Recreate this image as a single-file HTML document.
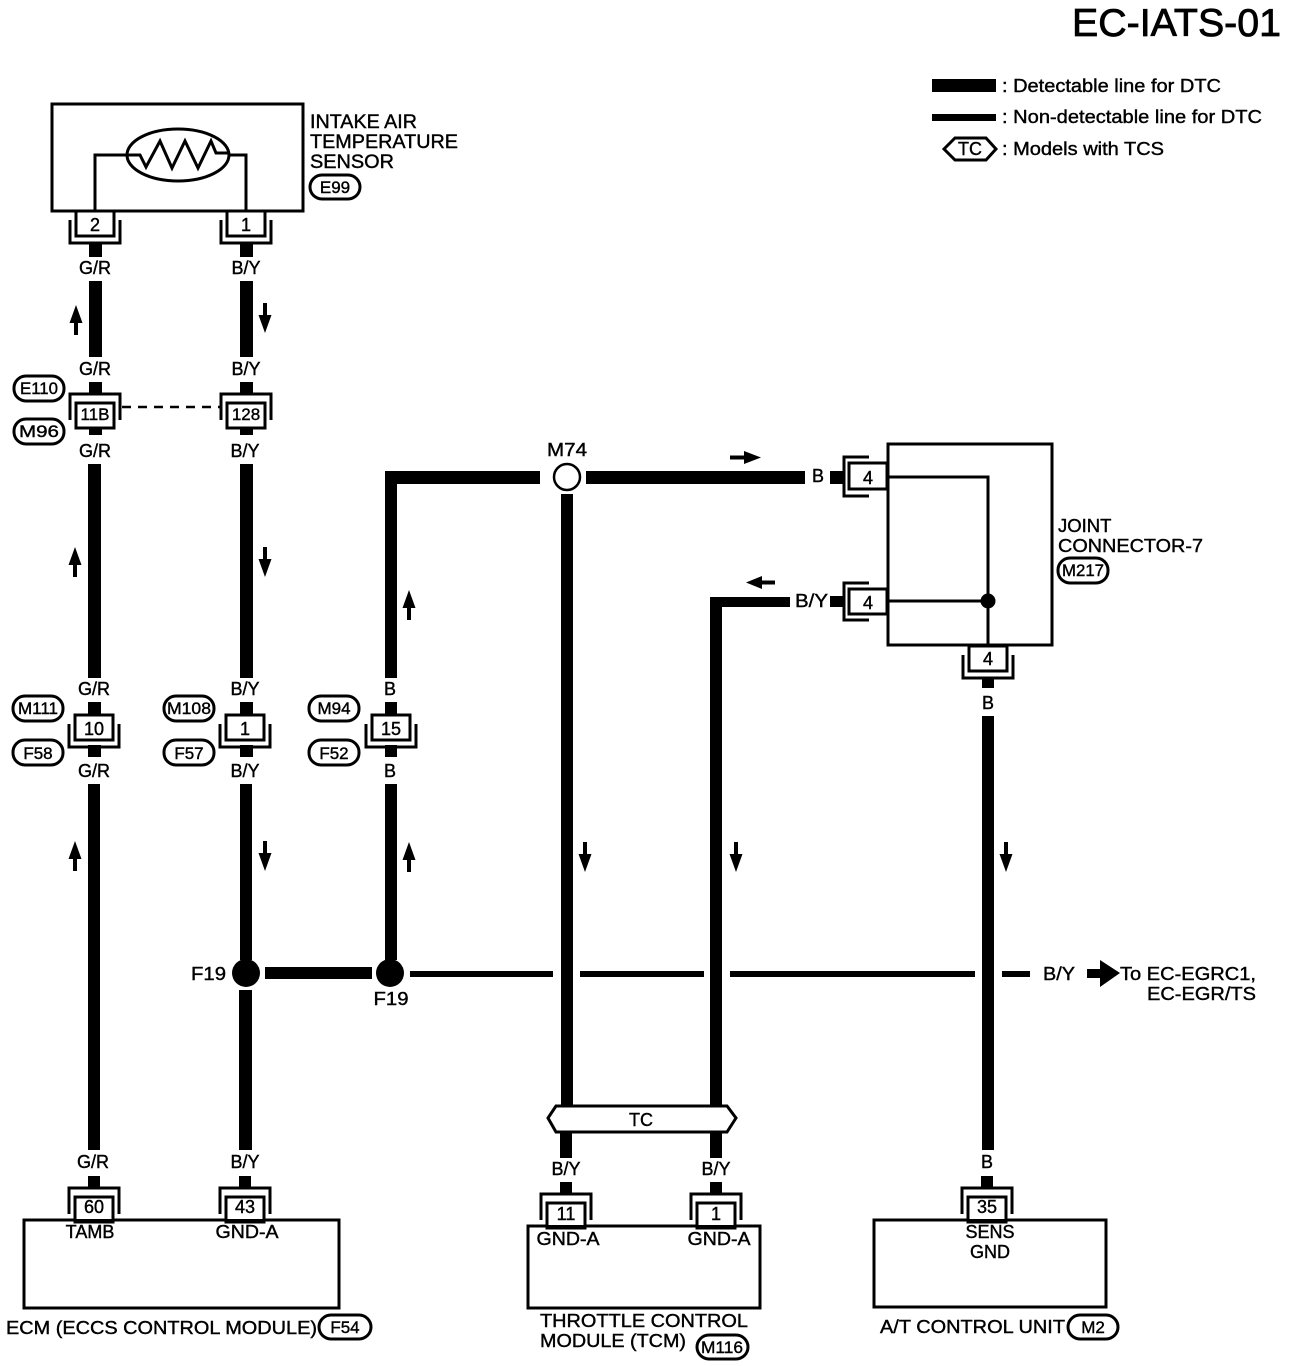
<!DOCTYPE html>
<html>
<head>
<meta charset="utf-8">
<style>
html,body{margin:0;padding:0;background:#fff;width:1296px;height:1366px;overflow:hidden}
svg{display:block}
text{font-family:"Liberation Sans",sans-serif;font-size:18px;fill:#000;stroke:#000;stroke-width:.4px}
.m{text-anchor:middle}
.n{font-size:19.5px}
.o{font-size:17px;text-anchor:middle}
.w{fill:#000;stroke:none}
.b{fill:#fff;stroke:#000;stroke-width:3}
.t{fill:none;stroke:#000;stroke-width:3}
.e{fill:#fff;stroke:#000;stroke-width:3}
</style>
</head>
<body>
<svg width="1296" height="1366" viewBox="0 0 1296 1366" xmlns="http://www.w3.org/2000/svg">
<defs>
<g id="u"><rect x="-19" y="0" width="38" height="25" class="b"/><path d="M-25,9V32H25V9" class="t"/></g>
<g id="c"><rect x="-19" y="9" width="38" height="25" class="b"/><path d="M-25,26V0H25V26" class="t"/></g>
<path id="au" class="w" d="M-2,30V18H-6.500L0,0L6.500,18H2V30Z"/>
<path id="ad" class="w" d="M-2,0V12H-6.500L0,30L6.500,12H2V0Z"/>
</defs>

<!-- Title and legend -->
<text x="1072" y="36" style="font-size:39px;stroke-width:.8px" textLength="209" lengthAdjust="spacingAndGlyphs">EC-IATS-01</text>
<rect x="932" y="79" width="64" height="13" class="w"/>
<text x="1002" y="92" textLength="219" lengthAdjust="spacingAndGlyphs">: Detectable line for DTC</text>
<rect x="932" y="114" width="64" height="7" class="w"/>
<text x="1002" y="123" textLength="260" lengthAdjust="spacingAndGlyphs">: Non-detectable line for DTC</text>
<polygon points="944,149 955,138 986,138 996,149 986,160 955,160" class="e"/>
<text x="970" y="155" class="m">TC</text>
<text x="1002" y="155" textLength="162" lengthAdjust="spacingAndGlyphs">: Models with TCS</text>

<!-- Thick wires -->
<g class="w">
<rect x="89" y="243" width="13" height="14"/><rect x="89" y="281" width="13" height="76"/>
<rect x="89" y="382" width="13" height="13"/><rect x="89" y="425" width="13" height="10"/>
<rect x="88" y="464" width="13" height="214"/><rect x="88" y="702" width="13" height="14"/>
<rect x="88" y="745" width="13" height="12"/><rect x="88" y="784" width="12" height="366"/>
<rect x="88" y="1176" width="12" height="12"/>

<rect x="240" y="243" width="13" height="14"/><rect x="240" y="281" width="13" height="76"/>
<rect x="240" y="382" width="13" height="13"/><rect x="240" y="425" width="13" height="10"/>
<rect x="240" y="464" width="13" height="214"/><rect x="240" y="702" width="13" height="14"/>
<rect x="240" y="745" width="13" height="12"/><rect x="240" y="784" width="12" height="176"/>
<rect x="239" y="990" width="13" height="160"/><rect x="239" y="1176" width="12" height="12"/>

<rect x="385" y="471" width="12" height="207"/><rect x="385" y="471" width="155" height="13"/>
<rect x="385" y="702" width="12" height="14"/><rect x="385" y="745" width="12" height="12"/>
<rect x="385" y="784" width="12" height="176"/>
<rect x="586" y="471" width="219" height="13"/>
<rect x="830" y="471" width="14" height="13"/>
<rect x="561" y="494" width="12" height="612"/><rect x="560" y="1132" width="12" height="26"/>
<rect x="560" y="1182" width="12" height="12"/>
<rect x="710" y="597" width="12" height="509"/><rect x="710" y="597" width="80" height="10"/>
<rect x="830" y="596" width="14" height="11"/>
<rect x="710" y="1132" width="12" height="26"/><rect x="710" y="1182" width="12" height="12"/>
<rect x="982" y="677" width="12" height="11"/><rect x="982" y="716" width="12" height="434"/>
<rect x="981" y="1176" width="12" height="12"/>
<rect x="265" y="967" width="107" height="12"/>
<rect x="410" y="971" width="143" height="6"/><rect x="580" y="971" width="124" height="6"/>
<rect x="730" y="971" width="245" height="6"/><rect x="1002" y="971" width="28" height="6"/>
<path d="M1087,969H1100V960L1120,973L1100,987V978H1087Z"/>
</g>

<!-- Sensor -->
<rect x="52" y="104" width="251" height="107" class="b"/>
<path d="M95,211V155H127M228,155H246V211" class="t"/>
<ellipse cx="178" cy="155" rx="51" ry="26" class="t"/>
<path d="M127,155H140L146,167L160,141L172,168L185,141L198,168L211,141L216,153H228" fill="none" stroke="#000" stroke-width="3"/>
<text x="310" y="128" class="n" textLength="107" lengthAdjust="spacingAndGlyphs">INTAKE AIR</text>
<text x="310" y="148" class="n" textLength="148" lengthAdjust="spacingAndGlyphs">TEMPERATURE</text>
<text x="310" y="168" class="n" textLength="84" lengthAdjust="spacingAndGlyphs">SENSOR</text>
<rect x="310" y="175" width="50" height="24" rx="12" class="e"/><text x="335" y="193" class="o">E99</text>

<use href="#u" x="95" y="211"/><text x="95" y="231" class="m">2</text>
<use href="#u" x="246" y="211"/><text x="246" y="231" class="m">1</text>
<text x="95" y="274" class="m">G/R</text><text x="246" y="274" class="m">B/Y</text>
<text x="95" y="375" class="m">G/R</text><text x="246" y="375" class="m">B/Y</text>

<!-- 11B / 128 -->
<use href="#c" x="95" y="394"/><text x="95" y="420" class="m" style="font-size:17px">11B</text>
<use href="#c" x="246" y="394"/><text x="246" y="420" class="m" style="font-size:17px">128</text>
<path d="M122,407H221" stroke="#000" stroke-width="2.5" stroke-dasharray="9,7" fill="none"/>
<rect x="14" y="376" width="50" height="25" rx="12" class="e"/><text x="39" y="394" class="o" textLength="38" lengthAdjust="spacingAndGlyphs">E110</text>
<rect x="14" y="419" width="50" height="25" rx="12" class="e"/><text x="39" y="437" class="o" textLength="40" lengthAdjust="spacingAndGlyphs">M96</text>
<text x="95" y="457" class="m">G/R</text><text x="245" y="457" class="m">B/Y</text>

<!-- Second connector row -->
<text x="94" y="695" class="m">G/R</text><text x="245" y="695" class="m">B/Y</text><text x="390" y="695" class="m">B</text>
<use href="#u" x="94" y="715"/><text x="94" y="735" class="m">10</text>
<use href="#u" x="245" y="715"/><text x="245" y="735" class="m">1</text>
<use href="#u" x="391" y="715"/><text x="391" y="735" class="m">15</text>
<text x="94" y="777" class="m">G/R</text><text x="245" y="777" class="m">B/Y</text><text x="390" y="777" class="m">B</text>
<rect x="13" y="696" width="50" height="25" rx="12" class="e"/><text x="38" y="714" class="o" textLength="40" lengthAdjust="spacingAndGlyphs">M111</text>
<rect x="13" y="740" width="50" height="25" rx="12" class="e"/><text x="38" y="759" class="o">F58</text>
<rect x="164" y="696" width="50" height="25" rx="12" class="e"/><text x="189" y="714" class="o" textLength="44" lengthAdjust="spacingAndGlyphs">M108</text>
<rect x="164" y="740" width="50" height="25" rx="12" class="e"/><text x="189" y="759" class="o">F57</text>
<rect x="309" y="696" width="50" height="25" rx="12" class="e"/><text x="334" y="714" class="o">M94</text>
<rect x="309" y="740" width="50" height="25" rx="12" class="e"/><text x="334" y="759" class="o">F52</text>

<!-- M74 and junctions -->
<circle cx="567" cy="477" r="13" fill="#fff" stroke="#000" stroke-width="2.5"/>
<text x="567" y="456" class="m" textLength="40" lengthAdjust="spacingAndGlyphs">M74</text>
<circle cx="246" cy="973" r="14" fill="#000"/>
<circle cx="390" cy="973" r="14" fill="#000"/>
<text x="191" y="980" textLength="35" lengthAdjust="spacingAndGlyphs">F19</text>
<text x="391" y="1005" class="m" textLength="35" lengthAdjust="spacingAndGlyphs">F19</text>
<text x="1043" y="980" textLength="32" lengthAdjust="spacingAndGlyphs">B/Y</text>
<text x="1120" y="980" textLength="136" lengthAdjust="spacingAndGlyphs">To EC-EGRC1,</text>
<text x="1147" y="1000" textLength="109" lengthAdjust="spacingAndGlyphs">EC-EGR/TS</text>

<!-- Joint connector -->
<rect x="888" y="444" width="164" height="201" class="b"/>
<path d="M888,477H988V645M888,601H988" class="t"/>
<circle cx="988" cy="601" r="7.5" fill="#000"/>
<rect x="849" y="463" width="38" height="26" class="b"/><path d="M869,457H844V496H869" class="t"/>
<text x="868" y="484" class="m">4</text>
<text x="818" y="482" class="m">B</text>
<rect x="849" y="589" width="38" height="25" class="b"/><path d="M869,583H844V620H869" class="t"/>
<text x="868" y="609" class="m">4</text>
<text x="795" y="607" textLength="33" lengthAdjust="spacingAndGlyphs">B/Y</text>
<use href="#u" x="988" y="646"/><text x="988" y="665" class="m">4</text>
<text x="988" y="709" class="m">B</text>
<text x="1058" y="532" class="n" style="font-size:18.5px">JOINT</text>
<text x="1058" y="552" class="n" style="font-size:18.5px" textLength="145" lengthAdjust="spacingAndGlyphs">CONNECTOR-7</text>
<rect x="1058" y="558" width="50" height="25" rx="12" class="e"/><text x="1083" y="576" class="o" textLength="42" lengthAdjust="spacingAndGlyphs">M217</text>

<!-- TC bar -->
<polygon points="548,1118 556,1106 727,1106 736,1118 727,1132 556,1132" class="b"/>
<text x="641" y="1126" class="m">TC</text>

<!-- Bottom labels -->
<text x="93" y="1168" class="m">G/R</text><text x="245" y="1168" class="m">B/Y</text>
<text x="566" y="1175" class="m">B/Y</text><text x="716" y="1175" class="m">B/Y</text>
<text x="987" y="1168" class="m">B</text>

<!-- ECM -->
<rect x="24" y="1220" width="315" height="88" class="b"/>
<use href="#c" x="94" y="1188"/><text x="94" y="1213" class="m">60</text>
<use href="#c" x="245" y="1188"/><text x="245" y="1213" class="m">43</text>
<rect x="24" y="1219" width="315" height="2" class="w"/>
<text x="90" y="1238" class="m">TAMB</text>
<text x="247" y="1238" class="m" textLength="63" lengthAdjust="spacingAndGlyphs">GND-A</text>
<text x="6" y="1334" textLength="311" lengthAdjust="spacingAndGlyphs">ECM (ECCS CONTROL MODULE)</text>
<rect x="319" y="1315" width="52" height="24" rx="12" class="e"/><text x="345" y="1333" class="o">F54</text>

<!-- TCM -->
<rect x="528" y="1226" width="232" height="82" class="b"/>
<use href="#c" x="566" y="1194"/><text x="566" y="1220" class="m">11</text>
<use href="#c" x="716" y="1194"/><text x="716" y="1220" class="m">1</text>
<rect x="528" y="1225" width="232" height="2" class="w"/>
<text x="568" y="1245" class="m" textLength="63" lengthAdjust="spacingAndGlyphs">GND-A</text>
<text x="719" y="1245" class="m" textLength="63" lengthAdjust="spacingAndGlyphs">GND-A</text>
<text x="540" y="1327" textLength="208" lengthAdjust="spacingAndGlyphs">THROTTLE CONTROL</text>
<text x="540" y="1347" textLength="146" lengthAdjust="spacingAndGlyphs">MODULE (TCM)</text>
<rect x="697" y="1335" width="51" height="24" rx="12" class="e"/><text x="722" y="1353" class="o" textLength="42" lengthAdjust="spacingAndGlyphs">M116</text>

<!-- A/T -->
<rect x="874" y="1220" width="232" height="87" class="b"/>
<use href="#c" x="987" y="1188"/><text x="987" y="1213" class="m">35</text>
<rect x="874" y="1219" width="232" height="2" class="w"/>
<text x="990" y="1238" class="m">SENS</text>
<text x="990" y="1258" class="m">GND</text>
<text x="880" y="1333" textLength="185" lengthAdjust="spacingAndGlyphs">A/T CONTROL UNIT</text>
<rect x="1068" y="1315" width="50" height="24" rx="12" class="e"/><text x="1093" y="1333" class="o">M2</text>

<!-- Direction arrows -->
<use href="#au" x="76" y="305"/><use href="#ad" x="265" y="303"/>
<use href="#au" x="75" y="547"/><use href="#ad" x="265" y="547"/>
<use href="#au" x="75" y="841"/><use href="#ad" x="265" y="841"/>
<use href="#au" x="409" y="590"/><use href="#au" x="409" y="842"/>
<use href="#ad" x="585" y="842"/><use href="#ad" x="736" y="842"/><use href="#ad" x="1006" y="842"/>
<path class="w" d="M730,455.500H744V451L761,457.500L744,464V459.500H730Z"/>
<path class="w" d="M775,580.500H762V576L746,582.500L762,589V584.500H775Z"/>
</svg>
</body>
</html>
